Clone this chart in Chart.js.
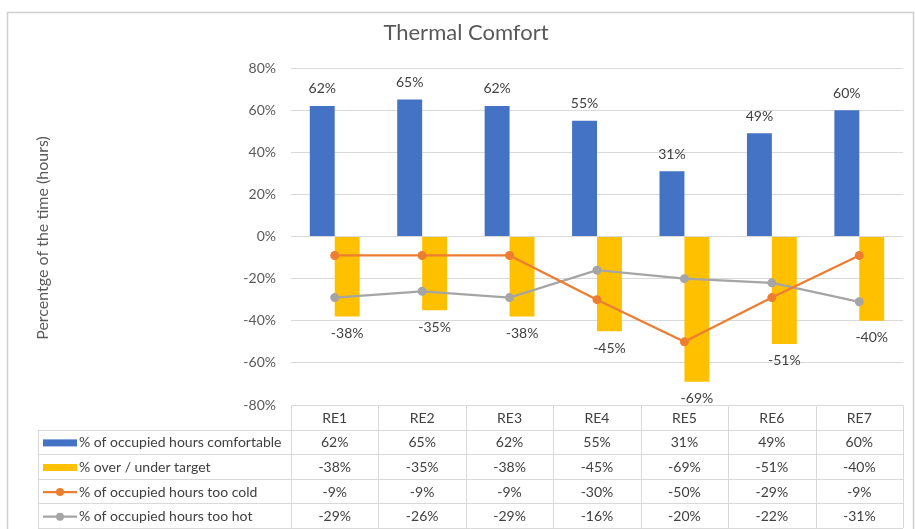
<!DOCTYPE html>
<html>
<head>
<meta charset="utf-8">
<script src="https://cdn.jsdelivr.net/npm/chart.js@4"></script>
<style>
  body { margin: 0; background: #fff; }
  #chart { position: absolute; left: 0; top: 0; }
</style>
</head>
<body>
<canvas id="chart" width="915" height="529"></canvas>
<script>
// Data
const categories = ["RE1", "RE2", "RE3", "RE4", "RE5", "RE6", "RE7"];
const comfortable = [62, 65, 62, 55, 31, 49, 60];
const overUnder = [-38, -35, -38, -45, -69, -51, -40];
const tooCold = [-9, -9, -9, -30, -50, -29, -9];
const tooHot = [-29, -26, -29, -16, -20, -22, -31];
const yTicks = [-80, -60, -40, -20, 0, 20, 40, 60, 80];

const FONT = "Lato, 'Open Sans', sans-serif";
const TEXT = "#404040";
const GRID = "#d9d9d9";
const BLUE = "#4472C4";
const YELLOW = "#FFC000";
const ORANGE = "#ED7D31";
const GRAY = "#A5A5A5";

const seriesRows = [
    { label: "% of occupied hours comfortable", data: comfortable, color: BLUE, kind: "bar" },
    { label: "% over / under target", data: overUnder, color: YELLOW, kind: "bar" },
    { label: "% of occupied hours too cold", data: tooCold, color: ORANGE, kind: "line" },
    { label: "% of occupied hours too hot", data: tooHot, color: GRAY, kind: "line" },
];

// Frame, titles and the data table below the plot
const decorations = {
    id: "decorations",
    beforeDraw(chart) {
        const c = chart.ctx;
        c.save();
        c.strokeStyle = "#d0d0d0";
        c.lineWidth = 1.5;
        c.strokeRect(7.5, 12.5, 906, 530);
        c.restore();
    },
    afterDatasetsDraw(chart) {
        const c = chart.ctx;

        // value labels on the bars
        c.save();
        c.font = "14px " + FONT;
        c.fillStyle = TEXT;
        c.textAlign = "center";
        c.textBaseline = "middle";
        [0, 1].forEach(i => {
            const meta = chart.getDatasetMeta(i);
            meta.data.forEach((bar, j) => {
                const v = chart.data.datasets[i].data[j];
                const y = v >= 0 ? bar.y - 17 : bar.y + 17;
                c.fillText(v + "%", bar.x, y);
            });
        });
        c.restore();
    },
    afterDraw(chart) {
        const c = chart.ctx;
        const area = chart.chartArea;
        const x = chart.scales.x;
        const colW = (area.right - area.left) / categories.length;

        c.save();
        // title
        c.fillStyle = "#595959";
        c.font = "22px " + FONT;
        c.textAlign = "center";
        c.textBaseline = "middle";
        c.fillText("Thermal Comfort", 466, 33);

        // y axis title
        c.save();
        c.translate(43, 238);
        c.rotate(-Math.PI / 2);
        c.font = "16px " + FONT;
        c.fillText("Percentge of the time (hours)", 0, 0);
        c.restore();

        // table
        const headTop = area.bottom;
        const rowH = 24.6;
        const legLeft = 38;
        c.strokeStyle = GRID;
        c.lineWidth = 1;
        const yLine = y => Math.round(y) + 0.5;
        for (let r = 1; r <= seriesRows.length + 1; r++) {
            const y = yLine(headTop + r * rowH);
            c.beginPath();
            c.moveTo(legLeft, y);
            c.lineTo(area.right, y);
            c.stroke();
        }
        for (let i = 0; i <= categories.length; i++) {
            const xx = Math.round(area.left + i * colW) + 0.5;
            c.beginPath();
            c.moveTo(xx, headTop);
            c.lineTo(xx, headTop + (seriesRows.length + 1) * rowH);
            c.stroke();
        }
        c.beginPath();
        c.moveTo(legLeft + 0.5, yLine(headTop + rowH));
        c.lineTo(legLeft + 0.5, yLine(headTop + (seriesRows.length + 1) * rowH));
        c.stroke();

        c.font = "14px " + FONT;
        c.fillStyle = TEXT;
        c.textAlign = "center";
        categories.forEach((cat, i) => {
            c.fillText(cat, x.getPixelForValue(i), headTop + rowH / 2 + 1);
        });
        seriesRows.forEach((row, r) => {
            const cy = headTop + (r + 1) * rowH + rowH / 2 + 1;
            // legend key
            if (row.kind === "bar") {
                c.fillStyle = row.color;
                c.fillRect(43, cy - 3.5, 34, 7);
            } else {
                c.strokeStyle = row.color;
                c.lineWidth = 2.25;
                c.beginPath();
                c.moveTo(43, cy);
                c.lineTo(77, cy);
                c.stroke();
                c.fillStyle = row.color;
                c.beginPath();
                c.arc(60, cy, 4, 0, Math.PI * 2);
                c.fill();
            }
            c.fillStyle = TEXT;
            c.textAlign = "left";
            c.fillText(row.label, 79, cy);
            c.textAlign = "center";
            row.data.forEach((v, i) => {
                c.fillText(v + "%", x.getPixelForValue(i), cy);
            });
        });
        c.restore();
    }
};

new Chart(document.getElementById("chart"), {
    type: "bar",
    data: {
        labels: categories,
        datasets: [
            {
                type: "bar",
                label: seriesRows[0].label,
                data: comfortable,
                backgroundColor: BLUE,
                categoryPercentage: 0.57,
                barPercentage: 1,
                order: 3,
            },
            {
                type: "bar",
                label: seriesRows[1].label,
                data: overUnder,
                backgroundColor: YELLOW,
                categoryPercentage: 0.57,
                barPercentage: 1,
                order: 3,
            },
            {
                type: "line",
                label: seriesRows[2].label,
                data: tooCold,
                borderColor: ORANGE,
                backgroundColor: ORANGE,
                borderWidth: 2.25,
                pointRadius: 4.5,
                pointBorderWidth: 0,
                order: 1,
            },
            {
                type: "line",
                label: seriesRows[3].label,
                data: tooHot,
                borderColor: GRAY,
                backgroundColor: GRAY,
                borderWidth: 2.25,
                pointRadius: 4.5,
                pointBorderWidth: 0,
                order: 2,
            },
        ],
    },
    options: {
        responsive: false,
        animation: false,
        layout: {
            padding: { left: 231, right: 12, top: 68, bottom: 124 },
        },
        plugins: {
            legend: { display: false },
            title: { display: false },
            tooltip: { enabled: false },
        },
        scales: {
            x: {
                grid: { display: false },
                border: { display: false },
                ticks: { display: false },
                afterFit: s => { s.height = 0; },
            },
            y: {
                min: -80,
                max: 80,
                afterBuildTicks: s => { s.ticks = yTicks.map(v => ({ value: v })); },
                afterFit: s => { s.width = 60; },
                grid: { color: GRID, lineWidth: 1, drawTicks: false },
                border: { display: false },
                ticks: {
                    padding: 15,
                    color: "#595959",
                    font: { family: FONT, size: 14 },
                    callback: v => v + "%",
                },
            },
        },
    },
    plugins: [decorations],
});
</script>
</body>
</html>
